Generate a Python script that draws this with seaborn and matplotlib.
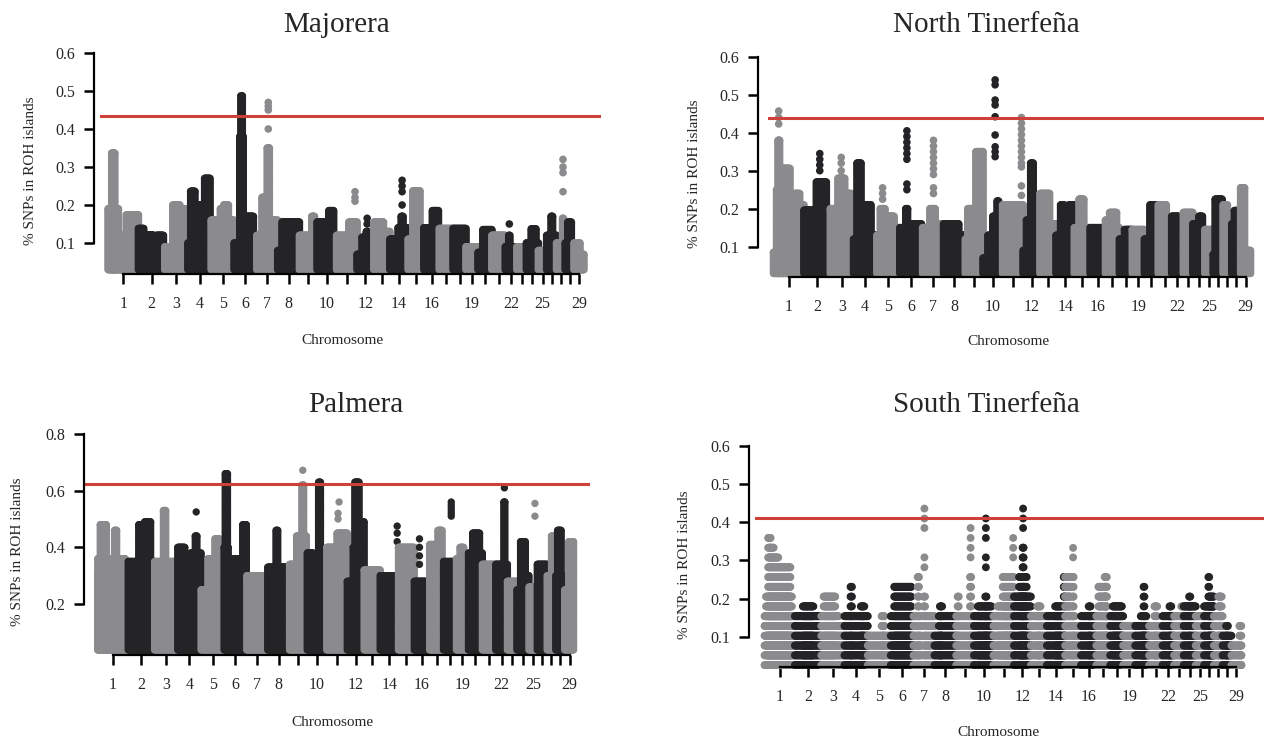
import numpy as np
import pandas as pd
import matplotlib
matplotlib.use("Agg")
import matplotlib.pyplot as plt
import seaborn as sns

# ---------------- data ----------------
CHROM_LEN = [157.4, 136.5, 120.0, 120.7, 119.0, 117.6, 108.4, 112.7, 91.6, 101.1,
             106.2, 87.3, 83.0, 94.6, 81.9, 79.4, 71.8, 67.0, 62.4, 71.8,
             69.4, 60.3, 49.3, 62.3, 42.9, 51.3, 44.7, 45.9, 51.3]
TICK_LABELS = ["1", "2", "3", "4", "5", "6", "7", "8", "", "10", "", "12", "", "14", "",
               "16", "", "", "19", "", "", "22", "", "", "25", "", "", "", "29"]

TITLES = ["Majorera", "North Tinerfeña", "Palmera", "South Tinerfeña"]
THRESHOLDS = [0.434, 0.44, 0.622, 0.411]
YTICKS = [[0.1, 0.2, 0.3, 0.4, 0.5, 0.6], [0.1, 0.2, 0.3, 0.4, 0.5, 0.6],
          [0.2, 0.4, 0.6, 0.8], [0.1, 0.2, 0.3, 0.4, 0.5, 0.6]]

# (chromosome, start fraction, end fraction, top value of the filled column block)
MAJ_SEGS = [
    (1, 0.00, 0.34, 0.19), (1, 0.12, 0.22, 0.336), (1, 0.34, 0.60, 0.12), (1, 0.60, 1.00, 0.174),
    (2, 0.00, 0.20, 0.138), (2, 0.20, 0.55, 0.121), (2, 0.55, 0.68, 0.09), (2, 0.68, 0.95, 0.12), (2, 0.95, 1.00, 0.08),
    (3, 0.00, 0.35, 0.09), (3, 0.35, 0.65, 0.20), (3, 0.65, 0.90, 0.19), (3, 0.90, 1.00, 0.12),
    (4, 0.00, 0.12, 0.10), (4, 0.12, 0.30, 0.236), (4, 0.30, 0.50, 0.15), (4, 0.50, 0.72, 0.20), (4, 0.72, 0.95, 0.27), (4, 0.95, 1.00, 0.12),
    (5, 0.00, 0.40, 0.16), (5, 0.40, 0.55, 0.19), (5, 0.55, 0.75, 0.20), (5, 0.75, 1.00, 0.16),
    (6, 0.00, 0.25, 0.10), (6, 0.25, 0.40, 0.38), (6, 0.30, 0.36, 0.487), (6, 0.40, 0.85, 0.17), (6, 0.85, 1.00, 0.12),
    (7, 0.00, 0.25, 0.12), (7, 0.25, 0.48, 0.22), (7, 0.50, 0.60, 0.35), (7, 0.60, 1.00, 0.16),
    (8, 0.00, 0.20, 0.08), (8, 0.20, 1.00, 0.155),
    (9, 0.00, 0.70, 0.12), (9, 0.70, 0.85, 0.17), (9, 0.85, 1.00, 0.12),
    (10, 0.00, 0.40, 0.155), (10, 0.40, 0.60, 0.12), (10, 0.60, 0.85, 0.185), (10, 0.85, 1.00, 0.10),
    (11, 0.00, 0.60, 0.12), (11, 0.60, 1.00, 0.155),
    (12, 0.00, 0.30, 0.07), (12, 0.30, 0.70, 0.115), (12, 0.55, 0.65, 0.13), (12, 0.70, 1.00, 0.09),
    (13, 0.00, 0.60, 0.155), (13, 0.60, 1.00, 0.13),
    (14, 0.00, 0.45, 0.11), (14, 0.45, 0.95, 0.14), (14, 0.62, 0.72, 0.17),
    (15, 0.00, 0.30, 0.11), (15, 0.30, 0.75, 0.237), (15, 0.75, 1.00, 0.13),
    (16, 0.00, 0.55, 0.14), (16, 0.55, 0.95, 0.185),
    (17, 0.00, 1.00, 0.138), (18, 0.00, 1.00, 0.138), (19, 0.00, 1.00, 0.09),
    (20, 0.00, 0.35, 0.075), (20, 0.35, 1.00, 0.135),
    (21, 0.00, 1.00, 0.12),
    (22, 0.00, 1.00, 0.09), (22, 0.30, 0.40, 0.12),
    (23, 0.00, 1.00, 0.09),
    (24, 0.00, 1.00, 0.10), (24, 0.40, 0.80, 0.137),
    (25, 0.00, 1.00, 0.08),
    (26, 0.00, 1.00, 0.12), (26, 0.45, 0.60, 0.17),
    (27, 0.00, 1.00, 0.10), (27, 0.70, 0.80, 0.165),
    (28, 0.00, 1.00, 0.10), (28, 0.30, 0.70, 0.155),
    (29, 0.00, 0.60, 0.10), (29, 0.60, 1.00, 0.07),
]
# isolated points (chromosome, fraction, value)
MAJ_DOTS = [
    (7, 0.55, 0.40), (7, 0.55, 0.45), (7, 0.55, 0.46), (7, 0.55, 0.47),
    (11, 0.90, 0.21), (11, 0.90, 0.22), (11, 0.90, 0.235),
    (12, 0.60, 0.15), (12, 0.60, 0.165),
    (14, 0.67, 0.20), (14, 0.67, 0.235), (14, 0.67, 0.25), (14, 0.67, 0.265),
    (22, 0.35, 0.15),
    (27, 0.75, 0.235), (27, 0.75, 0.285), (27, 0.75, 0.30), (27, 0.75, 0.32),
]

NT_SEGS = [
    (1, 0.00, 0.10, 0.085), (1, 0.10, 0.32, 0.25), (1, 0.15, 0.20, 0.38), (1, 0.32, 0.54, 0.306),
    (1, 0.54, 0.70, 0.20), (1, 0.70, 0.86, 0.24), (1, 0.86, 1.00, 0.21),
    (2, 0.00, 0.47, 0.196), (2, 0.47, 0.85, 0.27), (2, 0.85, 1.00, 0.20),
    (3, 0.00, 0.33, 0.20), (3, 0.33, 0.62, 0.28), (3, 0.62, 0.90, 0.24), (3, 0.90, 1.00, 0.17),
    (4, 0.00, 0.15, 0.12), (4, 0.15, 0.32, 0.32), (4, 0.32, 0.75, 0.21), (4, 0.75, 1.00, 0.13),
    (5, 0.00, 0.15, 0.13), (5, 0.15, 0.35, 0.20), (5, 0.35, 0.75, 0.18), (5, 0.75, 1.00, 0.15),
    (6, 0.00, 0.26, 0.15), (6, 0.26, 0.34, 0.20), (6, 0.34, 0.95, 0.16),
    (7, 0.00, 0.35, 0.15), (7, 0.35, 0.60, 0.20), (7, 0.60, 1.00, 0.16),
    (8, 0.00, 0.70, 0.16), (8, 0.70, 1.00, 0.13),
    (9, 0.00, 0.14, 0.12), (9, 0.14, 0.42, 0.20), (9, 0.42, 0.60, 0.13), (9, 0.60, 1.00, 0.35),
    (10, 0.00, 0.25, 0.07), (10, 0.25, 0.50, 0.13), (10, 0.50, 1.00, 0.18), (10, 0.72, 0.80, 0.22),
    (11, 0.00, 1.00, 0.21),
    (12, 0.00, 0.20, 0.09), (12, 0.20, 0.45, 0.17), (12, 0.45, 0.60, 0.32), (12, 0.60, 0.70, 0.19), (12, 0.70, 1.00, 0.145),
    (13, 0.00, 0.60, 0.24), (13, 0.60, 1.00, 0.16),
    (14, 0.00, 0.25, 0.13), (14, 0.25, 0.45, 0.21), (14, 0.45, 0.70, 0.17), (14, 0.70, 1.00, 0.21),
    (15, 0.00, 0.30, 0.15), (15, 0.30, 0.60, 0.225), (15, 0.60, 1.00, 0.15),
    (16, 0.00, 0.80, 0.15), (16, 0.80, 1.00, 0.12),
    (17, 0.00, 0.30, 0.17), (17, 0.30, 0.80, 0.19), (17, 0.80, 1.00, 0.15),
    (18, 0.00, 0.40, 0.12), (18, 0.40, 1.00, 0.145),
    (19, 0.00, 1.00, 0.145),
    (20, 0.00, 0.40, 0.12), (20, 0.40, 0.95, 0.21),
    (21, 0.00, 0.60, 0.21), (21, 0.60, 1.00, 0.15),
    (22, 0.00, 0.60, 0.18), (22, 0.60, 1.00, 0.15),
    (23, 0.00, 1.00, 0.19),
    (24, 0.00, 0.50, 0.16), (24, 0.50, 0.80, 0.18), (24, 0.80, 1.00, 0.12),
    (25, 0.00, 1.00, 0.145),
    (26, 0.00, 0.20, 0.08), (26, 0.20, 0.90, 0.225),
    (27, 0.00, 0.50, 0.21), (27, 0.50, 1.00, 0.14),
    (28, 0.00, 0.30, 0.16), (28, 0.30, 0.90, 0.195),
    (29, 0.00, 0.40, 0.255), (29, 0.40, 1.00, 0.09),
]
NT_DOTS = [
    (1, 0.17, 0.423), (1, 0.17, 0.44), (1, 0.17, 0.457),
    (2, 0.60, 0.30), (2, 0.60, 0.315), (2, 0.60, 0.33), (2, 0.60, 0.345),
    (3, 0.47, 0.30), (3, 0.47, 0.32), (3, 0.47, 0.335),
    (5, 0.25, 0.225), (5, 0.25, 0.24), (5, 0.25, 0.255),
    (6, 0.31, 0.25), (6, 0.31, 0.265), (6, 0.31, 0.33), (6, 0.31, 0.345), (6, 0.31, 0.36),
    (6, 0.31, 0.375), (6, 0.31, 0.39), (6, 0.31, 0.405),
    (7, 0.52, 0.24), (7, 0.52, 0.255), (7, 0.52, 0.29), (7, 0.52, 0.305), (7, 0.52, 0.32),
    (7, 0.52, 0.335), (7, 0.52, 0.35), (7, 0.52, 0.365), (7, 0.52, 0.38),
    (10, 0.62, 0.337), (10, 0.62, 0.35), (10, 0.62, 0.363), (10, 0.62, 0.394), (10, 0.62, 0.442),
    (10, 0.62, 0.473), (10, 0.62, 0.486), (10, 0.62, 0.526), (10, 0.62, 0.539),
    (11, 0.92, 0.235), (11, 0.92, 0.26), (11, 0.92, 0.31), (11, 0.92, 0.32), (11, 0.92, 0.335),
    (11, 0.92, 0.35), (11, 0.92, 0.365), (11, 0.92, 0.38), (11, 0.92, 0.395), (11, 0.92, 0.41),
    (11, 0.92, 0.425), (11, 0.92, 0.44),
]

PAL_SEGS = [
    (1, 0.00, 1.00, 0.31), (1, 0.00, 0.45, 0.36), (1, 0.08, 0.28, 0.48), (1, 0.55, 0.62, 0.46), (1, 0.62, 0.90, 0.36),
    (2, 0.00, 0.30, 0.35), (2, 0.30, 1.00, 0.33), (2, 0.40, 0.55, 0.48), (2, 0.62, 0.85, 0.49), (2, 0.85, 1.00, 0.35),
    (3, 0.00, 1.00, 0.35), (3, 0.38, 0.48, 0.53),
    (4, 0.00, 0.30, 0.40), (4, 0.30, 0.55, 0.35), (4, 0.55, 1.00, 0.38), (4, 0.75, 0.82, 0.44),
    (5, 0.00, 0.30, 0.25), (5, 0.30, 0.60, 0.36), (5, 0.60, 0.80, 0.43), (5, 0.80, 1.00, 0.30),
    (6, 0.00, 0.18, 0.40), (6, 0.05, 0.15, 0.66), (6, 0.18, 0.80, 0.36), (6, 0.82, 0.98, 0.48),
    (7, 0.00, 1.00, 0.30),
    (8, 0.00, 1.00, 0.33), (8, 0.38, 0.46, 0.46),
    (9, 0.00, 0.40, 0.34), (9, 0.40, 0.95, 0.44), (9, 0.70, 0.80, 0.62),
    (10, 0.00, 0.30, 0.38), (10, 0.30, 0.55, 0.36), (10, 0.58, 0.68, 0.63), (10, 0.68, 1.00, 0.36),
    (11, 0.00, 0.50, 0.40), (11, 0.50, 1.00, 0.45),
    (12, 0.00, 0.35, 0.28), (12, 0.35, 0.45, 0.40), (12, 0.45, 0.70, 0.63), (12, 0.70, 1.00, 0.49),
    (13, 0.00, 1.00, 0.32),
    (14, 0.00, 1.00, 0.30),
    (15, 0.00, 1.00, 0.40),
    (16, 0.00, 1.00, 0.28),
    (17, 0.00, 0.60, 0.41), (17, 0.60, 0.90, 0.46),
    (18, 0.00, 1.00, 0.35),
    (19, 0.00, 1.00, 0.36), (19, 0.30, 0.60, 0.40),
    (20, 0.00, 1.00, 0.38), (20, 0.30, 0.80, 0.45),
    (21, 0.00, 1.00, 0.34),
    (22, 0.00, 1.00, 0.34), (22, 0.70, 0.78, 0.56),
    (23, 0.00, 1.00, 0.28),
    (24, 0.00, 0.30, 0.25), (24, 0.30, 0.70, 0.42), (24, 0.70, 1.00, 0.30),
    (25, 0.00, 1.00, 0.26),
    (26, 0.00, 1.00, 0.34),
    (27, 0.00, 0.50, 0.30), (27, 0.50, 0.90, 0.44),
    (28, 0.00, 0.20, 0.30), (28, 0.20, 0.60, 0.46), (28, 0.60, 1.00, 0.30),
    (29, 0.00, 0.40, 0.25), (29, 0.40, 0.90, 0.42),
]
PAL_DOTS = [
    (4, 0.79, 0.525), (9, 0.75, 0.672),
    (11, 0.55, 0.50), (11, 0.55, 0.52), (11, 0.60, 0.56),
    (14, 0.93, 0.42), (14, 0.93, 0.45), (14, 0.93, 0.475),
    (16, 0.34, 0.34), (16, 0.34, 0.37), (16, 0.34, 0.40), (16, 0.34, 0.43),
    (18, 0.60, 0.51), (18, 0.60, 0.52), (18, 0.60, 0.53), (18, 0.60, 0.54), (18, 0.60, 0.55), (18, 0.60, 0.56),
    (22, 0.74, 0.61),
    (25, 0.72, 0.51), (25, 0.72, 0.555),
]

ST_SEGS = [
    (1, 0.00, 1.00, 0.154), (1, 0.05, 0.90, 0.205), (1, 0.12, 0.20, 0.359), (1, 0.20, 0.30, 0.333),
    (1, 0.30, 0.45, 0.308), (1, 0.45, 0.85, 0.282),
    (2, 0.00, 1.00, 0.154), (2, 0.30, 0.70, 0.179),
    (3, 0.00, 0.75, 0.154), (3, 0.10, 0.60, 0.205), (3, 0.75, 1.00, 0.128),
    (4, 0.00, 1.00, 0.154), (4, 0.26, 0.32, 0.231), (4, 0.70, 0.85, 0.179),
    (5, 0.00, 1.00, 0.103), (5, 0.60, 0.72, 0.154),
    (6, 0.00, 1.00, 0.154), (6, 0.15, 0.90, 0.231),
    (7, 0.00, 0.40, 0.154), (7, 0.20, 0.26, 0.256), (7, 0.49, 0.55, 0.205), (7, 0.55, 1.00, 0.154),
    (8, 0.00, 0.20, 0.103), (8, 0.20, 1.00, 0.154), (8, 0.25, 0.35, 0.179),
    (9, 0.00, 1.00, 0.154), (9, 0.08, 0.14, 0.205), (9, 0.78, 0.84, 0.256),
    (10, 0.00, 1.00, 0.154), (10, 0.20, 0.90, 0.179), (10, 0.58, 0.64, 0.205),
    (11, 0.00, 1.00, 0.154), (11, 0.20, 0.95, 0.179), (11, 0.45, 0.98, 0.256),
    (12, 0.00, 1.00, 0.205), (12, 0.30, 0.75, 0.256), (12, 0.51, 0.57, 0.333),
    (13, 0.00, 1.00, 0.154), (13, 0.40, 0.60, 0.179),
    (14, 0.00, 1.00, 0.154), (14, 0.45, 0.80, 0.179), (14, 0.92, 0.97, 0.256),
    (15, 0.00, 0.35, 0.256), (15, 0.35, 0.60, 0.154), (15, 0.47, 0.53, 0.256), (15, 0.60, 1.00, 0.128),
    (16, 0.00, 1.00, 0.154), (16, 0.50, 0.62, 0.179),
    (17, 0.00, 1.00, 0.154), (17, 0.15, 0.75, 0.231), (17, 0.60, 0.75, 0.256),
    (18, 0.00, 1.00, 0.154), (18, 0.20, 0.90, 0.179),
    (19, 0.00, 1.00, 0.128),
    (20, 0.00, 1.00, 0.128), (20, 0.40, 0.80, 0.154), (20, 0.60, 0.66, 0.231),
    (21, 0.00, 1.00, 0.128), (21, 0.40, 0.60, 0.179),
    (22, 0.00, 1.00, 0.154), (22, 0.60, 0.75, 0.179),
    (23, 0.00, 1.00, 0.154), (23, 0.75, 0.95, 0.179),
    (24, 0.00, 1.00, 0.179), (24, 0.45, 0.55, 0.205),
    (25, 0.00, 1.00, 0.154),
    (26, 0.00, 1.00, 0.179), (26, 0.44, 0.52, 0.256), (26, 0.52, 1.00, 0.205),
    (27, 0.00, 1.00, 0.154), (27, 0.50, 0.90, 0.205),
    (28, 0.00, 1.00, 0.103), (28, 0.40, 0.60, 0.128),
    (29, 0.00, 1.00, 0.077), (29, 0.80, 1.00, 0.128),
]
ST_DOTS = [
    (7, 0.52, 0.282), (7, 0.52, 0.308), (7, 0.52, 0.385), (7, 0.52, 0.410), (7, 0.52, 0.436),
    (9, 0.81, 0.308), (9, 0.81, 0.333), (9, 0.81, 0.359), (9, 0.81, 0.385),
    (10, 0.61, 0.282), (10, 0.61, 0.308), (10, 0.61, 0.359), (10, 0.61, 0.385), (10, 0.61, 0.410),
    (11, 0.96, 0.308), (11, 0.96, 0.333), (11, 0.96, 0.359),
    (12, 0.54, 0.385), (12, 0.54, 0.410), (12, 0.54, 0.436),
    (15, 0.50, 0.308), (15, 0.50, 0.333),
]

# ---------------- style ----------------
sns.set_style("white")
plt.rcParams["font.family"] = ["Liberation Serif", "DejaVu Serif"]
GRAY, BLACK, RED = "#8b8b8e", "#242426", "#cf4038"

W, H = 1264, 740
fig = plt.figure(figsize=(W / 100, H / 100), dpi=100)

STARTS = np.concatenate([[0.0], np.cumsum(CHROM_LEN)[:-1]])
CENTERS = STARTS + np.array(CHROM_LEN) / 2
COL_STEP = 3.0


def build(segs, dots, base, vstep, grid):
    recs = []
    for c, f0, f1, top in segs:
        L, s = CHROM_LEN[c - 1], STARTS[c - 1]
        a, b = f0 * L, f1 * L
        n = max(1, int(round((b - a) / COL_STEP)) + 1)
        xs = s + (np.linspace(a, b, n) if n > 1 else np.array([(a + b) / 2]))
        if grid:
            ys = np.arange(base, top + 1e-3, vstep)
        else:
            ys = np.append(np.arange(base, top, vstep), top)
        X, Y = np.meshgrid(xs, ys)
        recs.append(pd.DataFrame({"chrom": c, "pos": X.ravel(), "val": Y.ravel()}))
    for c, f, v in dots:
        recs.append(pd.DataFrame({"chrom": [c], "pos": [STARTS[c - 1] + f * CHROM_LEN[c - 1]], "val": [v]}))
    df = pd.concat(recs, ignore_index=True)
    df = df.sort_values("chrom", kind="mergesort").reset_index(drop=True)
    df["shade"] = np.where(df["chrom"] % 2 == 1, "odd", "even")
    return df


DATA = [
    build(MAJ_SEGS, MAJ_DOTS, 0.03, 0.006, False),
    build(NT_SEGS, NT_DOTS, 0.03, 0.006, False),
    build(PAL_SEGS, PAL_DOTS, 0.038, 0.008, False),
    build(ST_SEGS, ST_DOTS, 1 / 39, 1 / 39, True),
]

# layout in pixels: left, right, top, bottom, y at top, y at bottom, x-lims, spine offset(px)
LAYOUT = [
    dict(l=100, r=601, t=53, b=274, yt=0.6, yb=0.0184, xl=(-42, 2556.5), off=6),
    dict(l=768, r=1264, t=56.7, b=276.7, yt=0.6, yb=0.0211, xl=(-28.5, 2537.5), off=10),
    dict(l=85, r=590, t=434, b=655, yt=0.8, yb=0.020, xl=(-66.3, 2547.6), off=1.5),
    dict(l=755, r=1264, t=446, b=667, yt=0.6, yb=0.0206, xl=(-49.2, 2585), off=6),
]
TITLE_POS = [(337, 25), (986, 25), (356, 405), (986, 405)]
YLAB_POS = [(30, 171), (694, 174), (18, 552), (684, 565)]
XLAB_POS = [(342, 340), (1008, 342), (332, 722), (998, 733)]
SIZES = [30, 30, 28, 32]

for i, lay in enumerate(LAYOUT):
    ax = fig.add_axes([lay["l"] / W, 1 - lay["b"] / H, (lay["r"] - lay["l"]) / W, (lay["b"] - lay["t"]) / H])
    sns.scatterplot(data=DATA[i], x="pos", y="val", hue="shade", palette={"odd": GRAY, "even": BLACK},
                    s=SIZES[i], linewidth=0, edgecolor="none", legend=False, ax=ax, clip_on=False, zorder=2)
    ax.axhline(THRESHOLDS[i], color=RED, lw=2.2, zorder=3)
    ax.set_xlim(*lay["xl"])
    ax.set_ylim(lay["yb"], lay["yt"])
    ax.set_xlabel("")
    ax.set_ylabel("")
    ax.set_xticks(CENTERS)
    ax.set_xticklabels(TICK_LABELS)
    ax.set_yticks(YTICKS[i])
    ax.set_yticklabels([f"{v:.1f}" for v in YTICKS[i]])
    for sp in ["top", "right"]:
        ax.spines[sp].set_visible(False)
    ax.spines["left"].set_position(("outward", lay["off"] * 0.72))
    ax.spines["left"].set_bounds(YTICKS[i][0], YTICKS[i][-1])
    ax.spines["bottom"].set_bounds(CENTERS[0], CENTERS[-1])
    for sp in ["left", "bottom"]:
        ax.spines[sp].set_linewidth(1.6)
        ax.spines[sp].set_color("black")
        ax.spines[sp].set_zorder(4)
    ax.tick_params(axis="x", bottom=True, direction="out", length=7.5, width=1.8, pad=8.5,
                   labelsize=11.5, color="black")
    ax.tick_params(axis="y", left=True, direction="out", length=7.5, width=1.8, pad=6,
                   labelsize=11.5, color="black")
    ax.set_facecolor("none")

    fig.text(TITLE_POS[i][0] / W, 1 - TITLE_POS[i][1] / H, TITLES[i], ha="center", va="center", fontsize=21)
    fig.text(YLAB_POS[i][0] / W, 1 - YLAB_POS[i][1] / H, "% SNPs in ROH islands", ha="center", va="center",
             rotation=90, fontsize=11)
    fig.text(XLAB_POS[i][0] / W, 1 - XLAB_POS[i][1] / H, "Chromosome", ha="center", va="center", fontsize=11)

fig.savefig("out.png", dpi=100)
